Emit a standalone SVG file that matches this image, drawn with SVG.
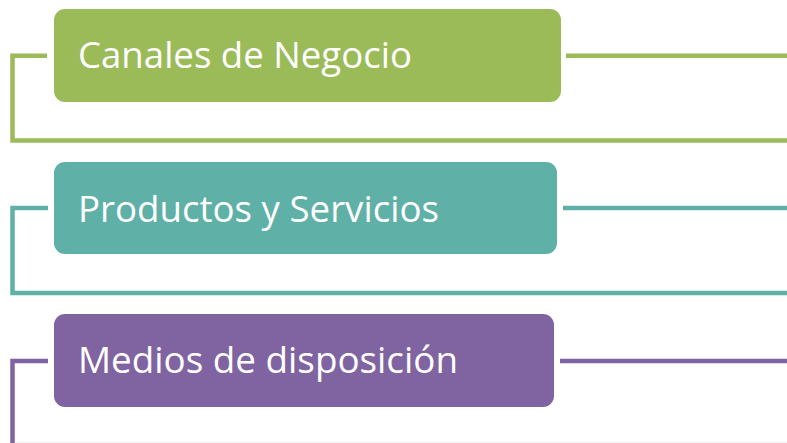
<svg xmlns="http://www.w3.org/2000/svg" width="787" height="443" viewBox="0 0 787 443">
<style>
.lbl{font-family:"Open Sans","Noto Sans","Liberation Sans",sans-serif;font-size:37px;fill:#ffffff}
.c{fill:none;stroke-width:4.5;stroke-linejoin:miter}
.g{stroke:#9BBB59}.t{stroke:#5FB0A6}.p{stroke:#8064A2}
</style>
<rect width="787" height="443" fill="#ffffff"/>
<g id="connectors">
<polyline class="c g" points="47,55.7 12.5,55.7 12.5,140.5 787,140.5"/>
<line class="c g" x1="566" y1="55.7" x2="787" y2="55.7"/>
<polyline class="c t" points="48,208 12.5,208 12.5,293 787,293"/>
<line class="c t" x1="563" y1="208" x2="787" y2="208"/>
<polyline class="c p" points="48,361 12.5,361 12.5,443"/>
<line class="c p" x1="560" y1="361" x2="787" y2="361"/>
<line x1="15" y1="442" x2="787" y2="442" stroke="#f0f0f0" stroke-width="1"/>
</g>
<g id="node-canales">
<rect x="54" y="9" width="507" height="93" rx="11" fill="#9BBB59"/>
<text class="lbl" x="78" y="67.7" textLength="334" lengthAdjust="spacingAndGlyphs">Canales de Negocio</text>
</g>
<g id="node-productos">
<rect x="54" y="162" width="503" height="92" rx="11" fill="#5FB0A6"/>
<text class="lbl" x="78" y="221.7" textLength="361" lengthAdjust="spacingAndGlyphs">Productos y Servicios</text>
</g>
<g id="node-medios">
<rect x="54" y="314" width="500" height="93" rx="11" fill="#8064A2"/>
<text class="lbl" x="78" y="372.7" textLength="380" lengthAdjust="spacingAndGlyphs">Medios de disposición</text>
</g>
</svg>
